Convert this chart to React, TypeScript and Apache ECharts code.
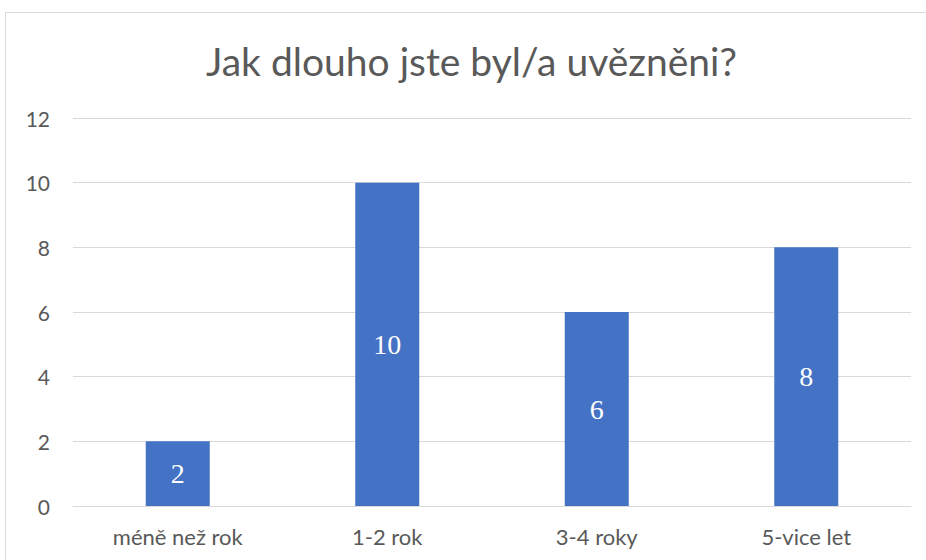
import React, { useEffect, useRef } from "react";
import * as echarts from "echarts";

const categories = ["méně než rok", "1-2 rok", "3-4 roky", "5-vice let"];
const values = [2, 10, 6, 8];
const titleText = "Jak dlouho jste byl/a uvězněni?";

export default function App() {
  const ref = useRef<HTMLDivElement>(null);
  useEffect(() => {
    document.body.style.margin = "0";
    const chart = echarts.init(ref.current!, null, { renderer: "svg" });
    chart.setOption({
      animation: false,
      backgroundColor: "#ffffff",
      title: {
        text: titleText,
        left: 206,
        top: 41,
        padding: 0,
        textStyle: { fontFamily: "Lato", fontSize: 39, fontWeight: "normal", color: "#595959" },
      },
      graphic: [
        {
          type: "rect",
          shape: { x: 5.5, y: 12.5, width: 940, height: 570 },
          style: { fill: "none", stroke: "#d9d9d9", lineWidth: 1 },
          silent: true,
        },
      ],
      grid: { left: 73, right: 15, top: 118, bottom: 54, containLabel: false },
      xAxis: {
        type: "category",
        data: categories,
        axisLine: { lineStyle: { color: "#d9d9d9", width: 1 } },
        axisTick: { show: false },
        axisLabel: { color: "#595959", fontSize: 22, fontFamily: "Lato", margin: 19 },
      },
      yAxis: {
        type: "value",
        min: 0,
        max: 12,
        interval: 2,
        axisLine: { show: false },
        axisTick: { show: false },
        splitLine: { lineStyle: { color: "#d9d9d9", width: 1 } },
        axisLabel: { color: "#595959", fontSize: 21, fontFamily: "Lato", margin: 23 },
      },
      series: [
        {
          type: "bar",
          data: values,
          barWidth: 64,
          itemStyle: { color: "#4472c4" },
          label: {
            show: true,
            position: "inside",
            color: "#ffffff",
            fontSize: 28,
            fontFamily: "Liberation Serif",
          },
        },
      ],
    });
    return () => chart.dispose();
  }, []);
  return <div ref={ref} style={{ width: 926, height: 560 }} />;
}
